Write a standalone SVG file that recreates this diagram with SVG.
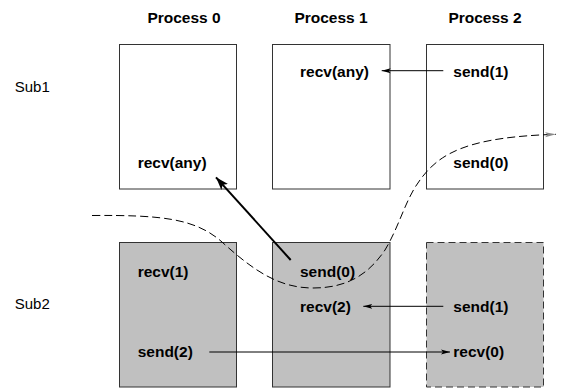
<svg xmlns="http://www.w3.org/2000/svg" width="564" height="391" viewBox="0 0 564 391">
<style>
.t{font-family:"Liberation Sans",Arial,sans-serif;font-weight:bold;font-size:15.5px;fill:#000}
.l{font-family:"Liberation Sans",Arial,sans-serif;font-size:15px;fill:#000}
.b{fill:#fff;stroke:#333;stroke-width:1}
.g{fill:#c0c0c0;stroke:#333;stroke-width:1}
.gd{fill:#c0c0c0;stroke:#333;stroke-width:1;stroke-dasharray:7,4}
.a{fill:none;stroke:#000;stroke-width:1;marker-end:url(#ah)}
</style>
<defs>
<marker id="ah" markerWidth="10" markerHeight="6" refX="9" refY="3" orient="auto" markerUnits="userSpaceOnUse">
<path d="M0,0.5 L9,3 L0,5.5 L2,3 Z" fill="#000"/>
</marker>
<marker id="ahb" markerWidth="14" markerHeight="10" refX="13" refY="5" orient="auto" markerUnits="userSpaceOnUse">
<path d="M0,0.5 L13,5 L0,9.5 L3,5 Z" fill="#000"/>
</marker>
<marker id="ahg" markerWidth="12" markerHeight="6" refX="11" refY="3" orient="auto" markerUnits="userSpaceOnUse">
<path d="M0,0.5 L11,3 L0,5.5 L2.5,3 Z" fill="#888"/>
</marker>
</defs>
<g id="headers">
<text class="t" x="184" y="23" text-anchor="middle">Process 0</text>
<text class="t" x="331" y="23" text-anchor="middle">Process 1</text>
<text class="t" x="485" y="23" text-anchor="middle">Process 2</text>
<text class="l" x="14.7" y="92">Sub1</text>
<text class="l" x="14.7" y="309">Sub2</text>
</g>
<g id="p0-sub1"><rect class="b" x="119.5" y="44.5" width="117" height="144.5"/><text class="t" x="137.7" y="168.3">recv(any)</text></g>
<g id="p1-sub1"><rect class="b" x="272.5" y="44.5" width="117.5" height="144.5"/><text class="t" x="300" y="77">recv(any)</text></g>
<g id="p2-sub1"><rect class="b" x="426.5" y="44.5" width="117" height="144.5"/><text class="t" x="453.3" y="77">send(1)</text><text class="t" x="453.3" y="168.3">send(0)</text></g>
<g id="p0-sub2"><rect class="g" x="119.5" y="242.5" width="117" height="144.5"/><text class="t" x="137.7" y="277.3">recv(1)</text><text class="t" x="137.7" y="356.7">send(2)</text></g>
<g id="p1-sub2"><rect class="g" x="272.5" y="242.5" width="117.5" height="144.5"/><text class="t" x="300" y="277.3">send(0)</text><text class="t" x="300" y="311.7">recv(2)</text></g>
<g id="p2-sub2"><rect class="gd" x="426.5" y="242.5" width="117" height="144.5"/><text class="t" x="453.3" y="311.7">send(1)</text><text class="t" x="453.3" y="356.7">recv(0)</text></g>
<g id="connectors">
<line class="a" x1="443.3" y1="70.7" x2="381.7" y2="70.7"/>
<line class="a" x1="443.3" y1="306.3" x2="363.3" y2="306.3"/>
<line class="a" x1="209.3" y1="352" x2="450" y2="352"/>
<line x1="290.7" y1="260" x2="216" y2="177.3" stroke="#000" stroke-width="2" marker-end="url(#ahb)"/>
<path d="M92,215.5 C160,215 195,218 222,242 C255,272 280,288 313,288 C350,288 370,272 385,250 C400,225 405,200 420,180 C440,152 470,137 556,134.3" fill="none" stroke="#000" stroke-width="1" stroke-dasharray="8,4" marker-end="url(#ahg)"/>
</g>
</svg>
